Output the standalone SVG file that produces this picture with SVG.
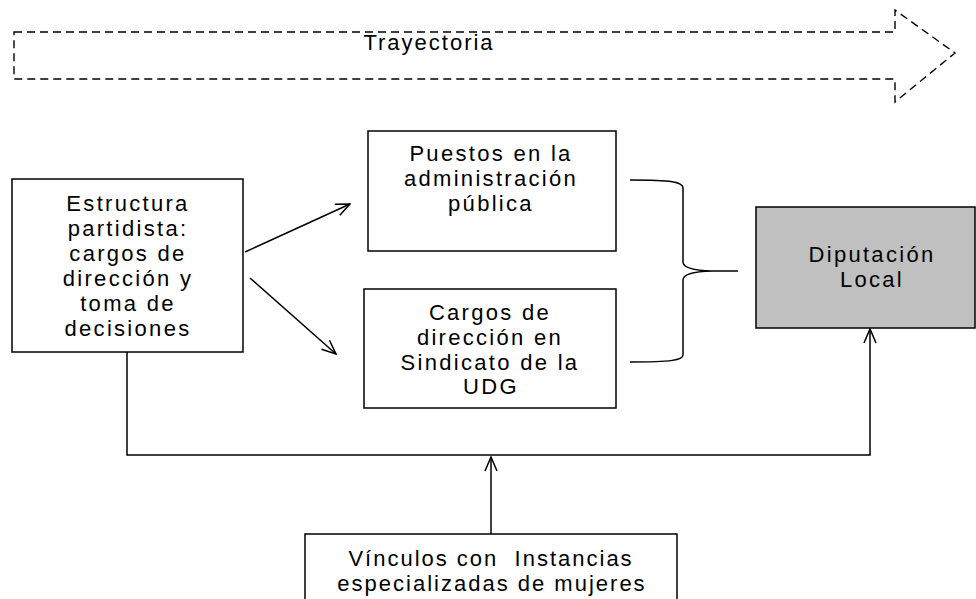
<svg xmlns="http://www.w3.org/2000/svg" width="976" height="599" viewBox="0 0 976 599">
<defs>
<style>
.box{fill:#fff;stroke:#000;stroke-width:1.5}
.grey{fill:#c0c0c0;stroke:#000;stroke-width:1.5}
.t{font-family:"Liberation Sans",Arial,sans-serif;font-size:22px;letter-spacing:2.3px;fill:#000;text-anchor:middle}
.ln{fill:none;stroke:#000;stroke-width:1.5}
</style>
<marker id="open" viewBox="0 0 16 14" refX="15" refY="7" markerWidth="16" markerHeight="14" markerUnits="userSpaceOnUse" orient="auto">
<path d="M1,1 L15,7 L1,13" fill="none" stroke="#000" stroke-width="1.5"/>
</marker>
</defs>
<rect width="976" height="599" fill="#fff"/>
<g id="trayectoria">
<path d="M14,32 L895,32 L895,10 L955,53 L895,102 L895,79 L14,79 Z" fill="none" stroke="#000" stroke-width="1.4" stroke-dasharray="8,5"/>
<text class="t" x="429" y="50" style="letter-spacing:2px">Trayectoria</text>
</g>
<g id="estructura">
<rect class="box" x="12" y="179" width="231" height="173"/>
<text class="t" x="128" y="211">Estructura</text>
<text class="t" x="128" y="236">partidista:</text>
<text class="t" x="128" y="261">cargos de</text>
<text class="t" x="128" y="286">dirección y</text>
<text class="t" x="128" y="311">toma de</text>
<text class="t" x="128" y="336">decisiones</text>
</g>
<g id="puestos">
<rect class="box" x="368" y="131" width="248" height="120"/>
<text class="t" x="491" y="161">Puestos en la</text>
<text class="t" x="491" y="186">administración</text>
<text class="t" x="491" y="211">pública</text>
</g>
<g id="cargos">
<rect class="box" x="364" y="289" width="252" height="119"/>
<text class="t" x="490" y="320">Cargos de</text>
<text class="t" x="490" y="345">dirección en</text>
<text class="t" x="490" y="370">Sindicato de la</text>
<text class="t" x="491" y="394">UDG</text>
</g>
<g id="diputacion">
<rect class="grey" x="756" y="207" width="219" height="121"/>
<text class="t" x="872" y="262">Diputación</text>
<text class="t" x="872" y="287">Local</text>
</g>
<g id="vinculos">
<rect class="box" x="305" y="534" width="372" height="80"/>
<text class="t" x="491" y="566" xml:space="preserve" style="letter-spacing:2px">Vínculos con  Instancias</text>
<text class="t" x="492" y="591" style="letter-spacing:2px">especializadas de mujeres</text>
</g>
<g id="connectors">
<line class="ln" x1="245" y1="252" x2="350" y2="204" marker-end="url(#open)"/>
<line class="ln" x1="250" y1="278" x2="336" y2="354" marker-end="url(#open)"/>
<path class="ln" d="M630,180 C672,180 683,182 683,188 L683,262 C683,268 695,270.5 712,271 L738,271 L712,271 C695,271.5 683,274 683,280 L683,355 C683,360 672,362 630,362"/>
<path class="ln" d="M127,352 L127,455 L870,455 L870,329" marker-end="url(#open)"/>
<line class="ln" x1="491" y1="534" x2="491" y2="457" marker-end="url(#open)"/>
</g>
</svg>
